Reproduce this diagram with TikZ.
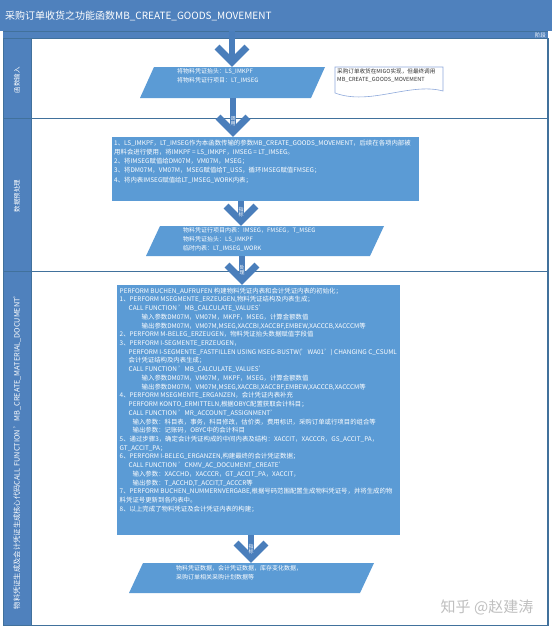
\documentclass[tikz,border=0pt]{standalone}
\usepackage{fontspec}
\setmainfont{Noto Sans CJK SC}
\usetikzlibrary{calc}
\definecolor{hdr}{HTML}{4F81BD}
\definecolor{shp}{HTML}{5B9BD5}
\definecolor{arr}{HTML}{4A7EBB}
\definecolor{edge}{HTML}{41719C}
\definecolor{notec}{HTML}{8EA9DB}
\tikzset{
  shapebox/.style={inner sep=0pt, outer sep=0pt},
  wtxt/.style={text=white, inner sep=0pt, align=left, font=\fontsize{6}{8.9}\selectfont},
  shaft/.style={line width=5.5pt, arr, line cap=butt},
  chev/.pic={\draw[line width=7pt, arr, line join=miter, line cap=butt] (-15,-15) -- (0,0) -- (15,-15);},
  lbl/.style={text=white, inner sep=0pt, align=center, font=\fontsize{5}{5.6}\selectfont},
  lanetxt/.style={text=white, rotate=90, inner sep=0pt, font=\fontsize{6.5}{7}\selectfont},
}
\begin{document}
\begin{tikzpicture}[x=1pt,y=-1pt]
\useasboundingbox (0,0) rectangle (552,630);
\fill[white] (0,0) rectangle (552,630);
% title bar and band
\fill[hdr] (0,0) rectangle (552,31);
\fill[hdr] (3,31) rectangle (548,38);
\draw[edge, line width=0.6pt] (3,31) -- (548,31);
\node[anchor=west, text=white, inner sep=0pt, font=\fontsize{10}{12}\selectfont] (title) at (5,16) {采购订单收货之功能函数MB\_CREATE\_GOODS\_MOVEMENT};
\node[anchor=east, text=white, inner sep=0pt, font=\fontsize{5.5}{6}\selectfont] (phase) at (546,35) {阶段};
% lane header strip
\fill[hdr] (3,38) rectangle (31,625);
\draw[edge, line width=0.7pt] (3,38) rectangle (548,625);
\draw[edge, line width=1.4pt] (548,38) -- (548,625);
\draw[edge, line width=0.7pt] (3,118) -- (548,118);
\draw[edge, line width=0.7pt] (3,271) -- (548,271);
\draw[edge, line width=0.7pt] (31,38) -- (31,625);
\node[lanetxt] (lane1) at (17,80) {函数输入};
\node[lanetxt] (lane2) at (17,196) {数据预处理};
\node[lanetxt, font=\fontsize{7.3}{7.5}\selectfont] (lane3) at (17,450) {物料凭证生成及会计凭证生成核心代码CALL FUNCTION 'MB\_CREATE\_MATERIAL\_DOCUMENT'};

% shapes
\node[shapebox, minimum width=185, minimum height=31] (p1) at (232.5,82.5) {};
\fill[shp] ($(p1.north west)+(14,0)$) -- (p1.north east) -- ($(p1.south east)+(-14,0)$) -- (p1.south west) -- cycle;
\node[wtxt, anchor=north west] (p1t) at (177,68.5) {将物料凭证抬头：LS\_IMKPF\\将物料凭证行项目：LT\_IMSEG};

\node[shapebox, minimum width=108, minimum height=26] (note) at (389,80) {};
\draw[notec, fill=white, line width=0.6pt] (note.south west) -- (note.north west) -- (note.north east) -- ($(note.south east)+(0,-2)$) .. controls (410,82) and (370,106) .. (note.south west) -- cycle;
\node[anchor=north west, inner sep=0pt, align=left, text=black!80, font=\fontsize{5.6}{8}\selectfont] (notet) at (337,69) {采购订单收货在MIGO实现，但最终调用\\MB\_CREATE\_GOODS\_MOVEMENT};

\node[shapebox, fill=shp, minimum width=307, minimum height=64] (b2) at (265.5,169) {};
\node[wtxt, anchor=north west, font=\fontsize{6.4}{9.1}\selectfont] (b2t) at (114,140) {1、LS\_IMKPF，LT\_IMSEG作为本函数传输的参数MB\_CREATE\_GOODS\_MOVEMENT，后续在各项内部被\\
用料会进行使用，将IMKPF = LS\_IMKPF，IMSEG = LT\_IMSEG。\\
2、将IMSEG赋值给DM07M，VM07M，MSEG；\\
3、将DM07M，VM07M，MSEG赋值给T\_USS，循环IMSEG赋值FMSEG；\\
4、将内表IMSEG赋值给LT\_IMSEG\_WORK内表；};

\node[shapebox, minimum width=238, minimum height=30] (p2) at (265,241) {};
\fill[shp] ($(p2.north west)+(14,0)$) -- (p2.north east) -- ($(p2.south east)+(-14,0)$) -- (p2.south west) -- cycle;
\node[wtxt, anchor=north west] (p2t) at (183,227) {物料凭证行项目内表：IMSEG，FMSEG，T\_MSEG\\物料凭证抬头：LS\_IMKPF\\临时内表：LT\_IMSEG\_WORK};

\node[shapebox, fill=shp, minimum width=283, minimum height=250] (b3) at (258.5,410) {};
\node[wtxt, anchor=north west, font=\fontsize{6.4}{8.73}\selectfont] (b3t) at (119.5,287.5) {PERFORM BUCHEN\_AUFRUFEN 构建物料凭证内表和会计凭证内表的初始化；\\
1、PERFORM MSEGMENTE\_ERZEUGEN,物料凭证结构及内表生成；\\
\hspace*{9pt}CALL FUNCTION 'MB\_CALCULATE\_VALUES'\\
\hspace*{22pt}输入参数DM07M，VM07M，MKPF，MSEG，计算金额数值\\
\hspace*{22pt}输出参数DM07M，VM07M,MSEG,XACCBI,XACCBF,EMBEW,XACCCB,XACCCM等\\
2、PERFORM M-BELEG\_ERZEUGEN，物料凭证抬头数据赋值字段值\\
3、PERFORM I-SEGMENTE\_ERZEUGEN，\\
\hspace*{9pt}PERFORM I-SEGMENTE\_FASTFILLEN USING MSEG-BUSTW('WA01') CHANGING C\_CSUML\\
\hspace*{9pt}会计凭证结构及内表生成；\\
\hspace*{9pt}CALL FUNCTION 'MB\_CALCULATE\_VALUES'\\
\hspace*{22pt}输入参数DM07M，VM07M，MKPF，MSEG，计算金额数值\\
\hspace*{22pt}输出参数DM07M，VM07M,MSEG,XACCBI,XACCBF,EMBEW,XACCCB,XACCCM等\\
4、PERFORM MSEGMENTE\_ERGANZEN，会计凭证内表补充\\
\hspace*{9pt}PERFORM KONTO\_ERMITTELN,根据OBYC配置获取会计科目；\\
\hspace*{9pt}CALL FUNCTION 'MR\_ACCOUNT\_ASSIGNMENT'\\
\hspace*{13pt}输入参数：科目表，事务，科目修改，估价类，费用标识，采购订单或行项目的组合等\\
\hspace*{13pt}输出参数：记账码，OBYC中的会计科目\\
5、通过步骤3，确定会计凭证构成的中间内表及结构：XACCIT，XACCCR，GS\_ACCIT\_PA，\\
GT\_ACCIT\_PA；\\
6、PERFORM I-BELEG\_ERGANZEN,构建最终的会计凭证数据；\\
\hspace*{9pt}CALL FUNCTION 'CKMV\_AC\_DOCUMENT\_CREATE'\\
\hspace*{13pt}输入参数：XACCHD，XACCCR，GT\_ACCIT\_PA，XACCIT，\\
\hspace*{13pt}输出参数：T\_ACCHD,T\_ACCIT,T\_ACCCR等\\
7、PERFORM BUCHEN\_NUMMERNVERGABE,根据号码范围配置生成物料凭证号，并将生成的物\\
料凭证号更新到各内表中。\\
8、以上完成了物料凭证及会计凭证内表的构建；};

\node[shapebox, minimum width=245, minimum height=30] (p3) at (251.5,578) {};
\fill[shp] ($(p3.north west)+(14,0)$) -- (p3.north east) -- ($(p3.south east)+(-14,0)$) -- (p3.south west) -- cycle;
\node[wtxt, anchor=north west] (p3t) at (176,565) {物料凭证数据，会计凭证数据，库存变化数据，\\采购订单相关采购计划数据等};

% watermark
\node[text=black!25, inner sep=0pt, font=\fontsize{15}{16}\selectfont] (wm) at (487,607) {知乎 @赵建涛};

% arrows
\coordinate (top) at (232,31);
\coordinate (a1) at (232,0);
\coordinate (a2) at (233,0);
\coordinate (a3) at (241,0);
\coordinate (a4) at (242,0);
\coordinate (a5) at (251,0);

\draw[shaft] (top) -- ($(p1.north -| a1)+(0,-4)$);
\pic at ($(p1.north -| a1)+(0,-5)$) {chev};

\draw[shaft] (p1.south -| a2) -- ($(b2.north -| a2)+(0,-4)$);
\pic at ($(b2.north -| a2)+(0,-5)$) {chev};
\node[lbl] (l2) at ($(b2.north -| a2)+(0,-16)$) {调\\用};

\draw[shaft] (b2.south -| a3) -- ($(p2.north -| a3)+(0,-4)$);
\pic at ($(p2.north -| a3)+(0,-5)$) {chev};
\node[lbl] (l3) at ($(p2.north -| a3)+(0,-14)$) {指\\标};

\draw[shaft] (p2.south -| a4) -- ($(b3.north -| a4)+(0,-4)$);
\pic at ($(b3.north -| a4)+(0,-5)$) {chev};
\node[lbl] (l4) at ($(b3.north -| a4)+(0,-15)$) {处\\理};

\draw[shaft] (b3.south -| a5) -- ($(p3.north -| a5)+(0,-4)$);
\pic at ($(p3.north -| a5)+(0,-5)$) {chev};
\node[lbl] (l5) at ($(p3.north -| a5)+(0,-14)$) {指\\标};
\end{tikzpicture}
\end{document}
